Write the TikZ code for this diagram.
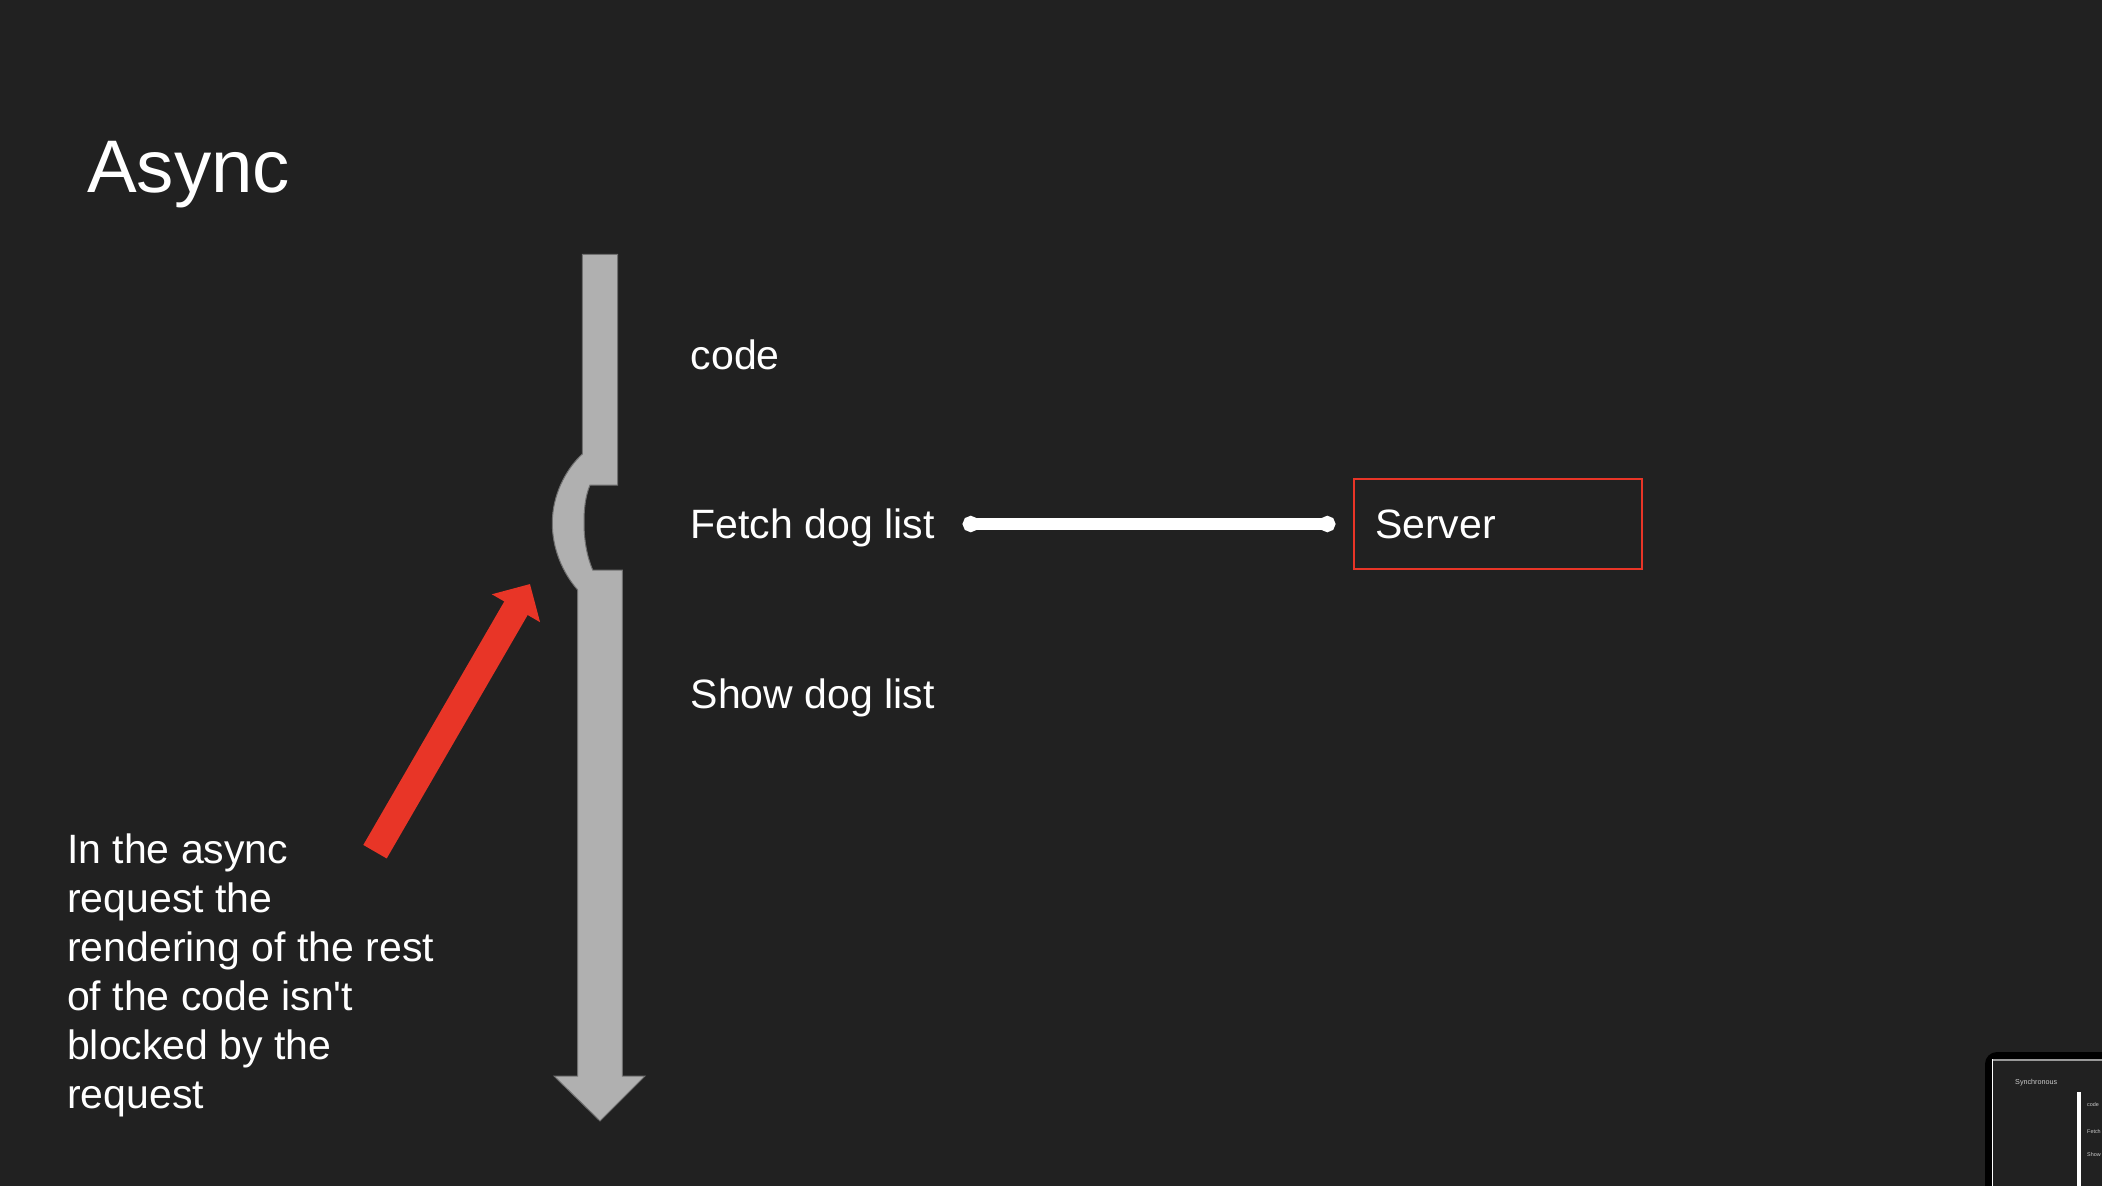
\documentclass[tikz,border=0pt]{standalone}
\usepackage{fontspec}
\setmainfont{Liberation Sans}
\usetikzlibrary{arrows.meta,calc,positioning}
\definecolor{slidebg}{RGB}{33,33,33}
\definecolor{flowgray}{RGB}{176,176,176}
\definecolor{flowedge}{RGB}{112,112,112}
\definecolor{hintred}{RGB}{232,53,39}
\tikzset{
steptext/.style={
  text=white,
  inner sep=0pt,
  anchor=base west,
  font=\fontsize{41}{49.1}\selectfont,
  }
}
\tikzset{
serverbox/.style={
  draw=hintred,
  line width=2pt,
  text=white,
  minimum width=287.4pt,
  minimum height=90.6pt,
  text width=246pt,
  inner xsep=20.7pt,
  inner ysep=0pt,
  align=left,
  anchor=north west,
  font=\fontsize{41}{49.1}\selectfont,
  }
}
\tikzset{
callline/.style={
  line width=12.5pt,
  draw=white,
  {Circle[length=16pt]}-{Circle[length=16pt]},
  }
}
\tikzset{
hintarrow/.style={
  line width=27pt,
  draw=hintred,
  -{Triangle[length=28pt,width=54pt]},
  }
}
\tikzset{
thumbtext/.style={
  text=white!80!black,
  inner sep=0pt,
  anchor=base west,
  }
}

\begin{document}
\begin{tikzpicture}[x=1pt,y=-1pt]
    \useasboundingbox (0,0) rectangle (2102,1186);
    \fill[slidebg] (0,0) rectangle (2102,1186);
    \node[text=white, inner sep=0pt, anchor=base west, font=\fontsize{74.5}{80}\selectfont] (title) at (87,192.3) {Async};

    % program flow
    \draw[fill=flowgray, draw=flowedge, line width=1pt] (582.3,254.3) -- (617.7,254.3) -- (617.7,485) -- (590,485)
      .. controls (585,497) and (584,510) .. (584,523)
      .. controls (584,540) and (587,557) .. (592.7,570)
      -- (622.3,570) -- (622.3,1076) -- (645,1076) -- (600,1121) -- (554,1076) -- (577.7,1076) -- (577.7,590)
      .. controls (562,572) and (552.3,548) .. (552.3,523)
      .. controls (552.3,496) and (565,470) .. (582.3,454) -- cycle;

    \node[steptext] (code) at (690.5,369.5) {code};
    \node[steptext, below=168.8pt of code.base west, anchor=base west] (fetch) {Fetch dog list};
    \node[steptext, below=170pt of fetch.base west, anchor=base west] (show) {Show dog list};
    \node[serverbox] (server) at (1353.3,477.7) {Server};

    \draw[callline, shorten <=28pt, shorten >=18pt] (fetch.east |- server.west) -- (server.west);

    % note
    \node[steptext, anchor=north west, align=left] (note) at (67,833.5) {In the async\\request the\\rendering of the rest\\of the code isn\textquotesingle t\\blocked by the\\request};
    \coordinate (hint tail) at (375,851.7);
    \coordinate (hint tip) at (530,584);
    \draw[hintarrow] (hint tail) -- (hint tip);

    % next slide preview
    \fill[black, rounded corners=12pt] (1985,1052) rectangle (2140,1220);
    \fill[slidebg] (1992.3,1060) rectangle (2120,1210);
    \draw[white!60!black, line width=2pt] (1992.3,1060) -- (2120,1060);
    \draw[white, line width=1pt] (1992.3,1059) -- (1992.3,1210);
    \node[thumbtext, font=\fontsize{7.2}{8}\selectfont] (thumb title) at (2015,1084) {Synchronous};
    \fill[white] (2076.7,1092) rectangle (2081,1210);
    \node[thumbtext, font=\fontsize{5.4}{6}\selectfont] (thumb code) at (2087,1106.7) {code};
    \node[thumbtext, font=\fontsize{5.4}{6}\selectfont] (thumb fetch) at (2087,1133) {Fetch};
    \node[thumbtext, font=\fontsize{5.4}{6}\selectfont] (thumb show) at (2087,1156.7) {Show};
\end{tikzpicture}
\end{document}
